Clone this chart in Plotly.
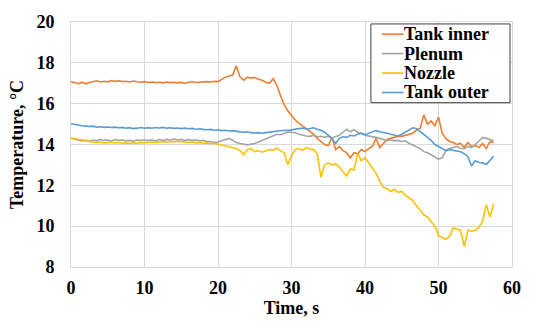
import plotly.graph_objects as go

time_s = [
    0, 0.5, 1, 1.5, 2, 2.5, 3, 3.5, 4, 4.5,
    5, 5.5, 6, 6.5, 7, 7.5, 8, 8.5, 9, 9.5,
    10, 10.5, 11, 11.5, 12, 12.5, 13, 13.5, 14, 14.5,
    15, 15.5, 16, 16.5, 17, 17.5, 18, 18.5, 19, 19.5,
    20, 20.5, 21, 21.5, 22, 22.5, 23, 23.5, 24, 24.5,
    25, 25.5, 26, 26.5, 27, 27.5, 28, 28.5, 29, 29.5,
    30, 30.5, 31, 31.5, 32, 32.5, 33, 33.5, 34, 34.5,
    35, 35.5, 36, 36.5, 37, 37.5, 38, 38.5, 39, 39.5,
    40, 40.5, 41, 41.5, 42, 42.5, 43, 43.5, 44, 44.5,
    45, 45.5, 46, 46.5, 47, 47.5, 48, 48.5, 49, 49.5,
    50, 50.5, 51, 51.5, 52, 52.5, 53, 53.5, 54, 54.5,
    55, 55.5, 56, 56.5, 57, 57.5,
]

tank_inner = [
    17.08, 17.02, 16.98, 17.05, 16.97, 17.04, 17.08, 17.12, 17.06, 17.10,
    17.07, 17.13, 17.09, 17.12, 17.08, 17.10, 17.06, 17.11, 17.07, 17.05,
    17.08, 17.04, 17.06, 17.03, 17.05, 17.02, 17.06, 17.03, 17.05, 17.02,
    17.04, 16.99, 17.05, 17.07, 17.04, 17.06, 17.05, 17.08, 17.06, 17.10,
    17.08, 17.20, 17.30, 17.35, 17.40, 17.85, 17.30, 17.15, 17.30, 17.25,
    17.28, 17.20, 17.15, 17.05, 17.00, 17.22, 16.90, 16.40, 15.95, 15.65,
    15.40, 15.20, 15.05, 14.90, 14.78, 14.65, 14.50, 14.30, 14.15, 14.00,
    13.95, 14.35, 13.75, 13.90, 13.70, 13.60, 13.35, 13.60, 13.55, 13.75,
    13.65, 13.80, 13.90, 14.30, 13.85, 14.05, 14.25, 14.30, 14.35, 14.40,
    14.40, 14.45, 14.50, 14.55, 14.70, 14.80, 15.45, 15.00, 15.15, 14.90,
    15.35, 14.55, 14.30, 14.15, 14.10, 14.00, 14.05, 13.85, 14.10, 13.90,
    13.95, 13.85, 14.05, 13.80, 14.15, 14.10,
]

plenum = [
    14.30, 14.25, 14.22, 14.18, 14.20, 14.15, 14.22, 14.18, 14.25, 14.20,
    14.22, 14.17, 14.24, 14.20, 14.22, 14.18, 14.20, 14.16, 14.22, 14.19,
    14.23, 14.20, 14.22, 14.18, 14.24, 14.20, 14.25, 14.22, 14.26, 14.22,
    14.25, 14.20, 14.24, 14.20, 14.22, 14.18, 14.20, 14.15, 14.14, 14.10,
    14.12, 14.18, 14.25, 14.30, 14.20, 14.10, 14.05, 14.00, 13.98, 14.02,
    14.05, 14.12, 14.20, 14.28, 14.35, 14.42, 14.50, 14.48, 14.55, 14.60,
    14.60, 14.58, 14.50, 14.45, 14.42, 14.40, 14.45, 14.38, 14.40, 14.35,
    14.40, 14.32, 14.40, 14.45, 14.60, 14.75, 14.62, 14.72, 14.60, 14.55,
    14.45, 14.42, 14.40, 14.35, 14.30, 14.25, 14.20, 14.22, 14.18, 14.20,
    14.15, 14.18, 14.05, 13.98, 13.88, 13.80, 13.65, 13.60, 13.50, 13.40,
    13.28, 13.35, 13.70, 13.80, 13.85, 13.90, 13.82, 13.80, 13.90, 13.85,
    14.00, 14.20, 14.35, 14.30, 14.25, 14.18,
]

nozzle = [
    14.32, 14.28, 14.25, 14.22, 14.18, 14.15, 14.12, 14.10, 14.12, 14.08,
    14.10, 14.12, 14.08, 14.10, 14.06, 14.08, 14.05, 14.09, 14.06, 14.10,
    14.08, 14.12, 14.10, 14.13, 14.11, 14.14, 14.12, 14.15, 14.13, 14.16,
    14.14, 14.12, 14.10, 14.12, 14.08, 14.10, 14.06, 14.08, 14.04, 14.06,
    14.02, 13.98, 13.95, 13.90, 13.86, 13.80, 13.70, 13.50, 13.75, 13.80,
    13.65, 13.70, 13.62, 13.70, 13.75, 13.72, 13.82, 13.70, 13.60, 13.00,
    13.45, 13.75, 13.80, 13.72, 13.85, 13.78, 13.75, 13.55, 12.40, 13.00,
    13.10, 13.00, 13.05, 12.90, 12.70, 12.45, 12.80, 12.75, 13.55, 13.20,
    13.35, 13.10, 12.90, 12.60, 12.20, 11.90, 11.85, 11.70, 11.80, 11.65,
    11.70, 11.50, 11.40, 11.25, 11.00, 10.80, 10.55, 10.45, 10.20, 10.00,
    9.55, 9.45, 9.35, 9.50, 9.92, 9.85, 9.80, 9.00, 9.80, 9.75,
    9.80, 9.95, 10.25, 11.05, 10.45, 11.10,
]

tank_outer = [
    15.02, 14.98, 14.95, 14.92, 14.90, 14.88, 14.90, 14.85, 14.87, 14.84,
    14.86, 14.83, 14.85, 14.82, 14.84, 14.80, 14.82, 14.78, 14.80, 14.83,
    14.80, 14.82, 14.80, 14.83, 14.81, 14.84, 14.80, 14.82, 14.79, 14.81,
    14.78, 14.80, 14.77, 14.79, 14.75, 14.77, 14.74, 14.72, 14.74, 14.70,
    14.72, 14.68, 14.70, 14.66, 14.68, 14.64, 14.62, 14.60, 14.62, 14.58,
    14.56, 14.58, 14.55, 14.58, 14.60, 14.62, 14.66, 14.65, 14.70, 14.68,
    14.72, 14.75, 14.78, 14.80, 14.76, 14.78, 14.82, 14.75, 14.70, 14.60,
    14.45, 14.30, 14.05, 14.30, 14.38, 14.35, 14.45, 14.42, 14.50, 14.55,
    14.48, 14.55, 14.60, 14.68, 14.62, 14.60, 14.55, 14.50, 14.45, 14.42,
    14.50, 14.60, 14.72, 14.82, 14.78, 14.65, 14.50, 14.35, 14.20, 14.00,
    13.90, 13.82, 13.70, 13.75, 13.72, 13.70, 13.65, 13.55, 13.40, 12.95,
    13.20, 13.12, 13.10, 13.02, 13.20, 13.42,
]

series_names = ["Tank inner", "Plenum", "Nozzle", "Tank outer"]
series_values = [tank_inner, plenum, nozzle, tank_outer]
series_colors = ["#ED7D31", "#A5A5A5", "#FFC000", "#5B9BD5"]

FONT = "Liberation Serif, Times New Roman, serif"

# plot area in pixels (for converting legend layout to paper coords)
PL, PR, PT, PB = 71, 518, 15, 267
def px(xp):
    return (xp - PL) / (PR - PL)
def py(yp):
    return 1 - (yp - PT) / (PB - PT)

fig = go.Figure()
for name, vals, col in zip(series_names, series_values, series_colors):
    fig.add_trace(go.Scatter(
        x=time_s, y=vals, mode="lines", name=name,
        line=dict(color=col, width=1.6), showlegend=False,
    ))

# custom compact legend (Excel-like)
legend_shapes = [dict(
    type="rect", xref="paper", yref="paper",
    x0=px(375), x1=px(516), y0=py(98), y1=py(17),
    line=dict(color="#404040", width=1), fillcolor="white", layer="above",
)]
legend_annots = []
row_y = [27.5, 47.5, 67.5, 87.5]
for name, col, yy in zip(series_names, series_colors, row_y):
    legend_shapes.append(dict(
        type="line", xref="paper", yref="paper",
        x0=px(386), x1=px(408), y0=py(yy), y1=py(yy),
        line=dict(color=col, width=1.6), layer="above",
    ))
    legend_annots.append(dict(
        xref="paper", yref="paper", x=px(408), y=py(yy),
        xanchor="left", yanchor="middle", showarrow=False, text=name,
        height=18, borderpad=0,
        font=dict(family=FONT, size=18, color="black", weight="bold"),
    ))

axis_common = dict(
    showgrid=True, gridcolor="#D9D9D9", gridwidth=1,
    showline=True, linecolor="#D9D9D9", linewidth=1, mirror=True,
    ticks="", zeroline=False,
    tickfont=dict(family=FONT, size=18, color="black", weight="bold"),
)

fig.update_layout(
    width=533, height=327,
    margin=dict(l=PL, r=533 - PR, t=PT, b=327 - PB),
    paper_bgcolor="white", plot_bgcolor="white",
    font=dict(family=FONT, color="black"),
    xaxis=dict(
        range=[0, 60], dtick=10, tick0=0,
        title=dict(text="Time, s", font=dict(family=FONT, size=18, color="black", weight="bold"), standoff=4),
        ticklabelstandoff=4,
        **axis_common,
    ),
    yaxis=dict(
        range=[8, 20], dtick=2, tick0=8,
        title=dict(text="Temperature, °C", font=dict(family=FONT, size=18, color="black", weight="bold"), standoff=8),
        ticklabelstandoff=12,
        **axis_common,
    ),
    shapes=legend_shapes,
    annotations=legend_annots,
    showlegend=False,
)

fig.write_html("out.html")
